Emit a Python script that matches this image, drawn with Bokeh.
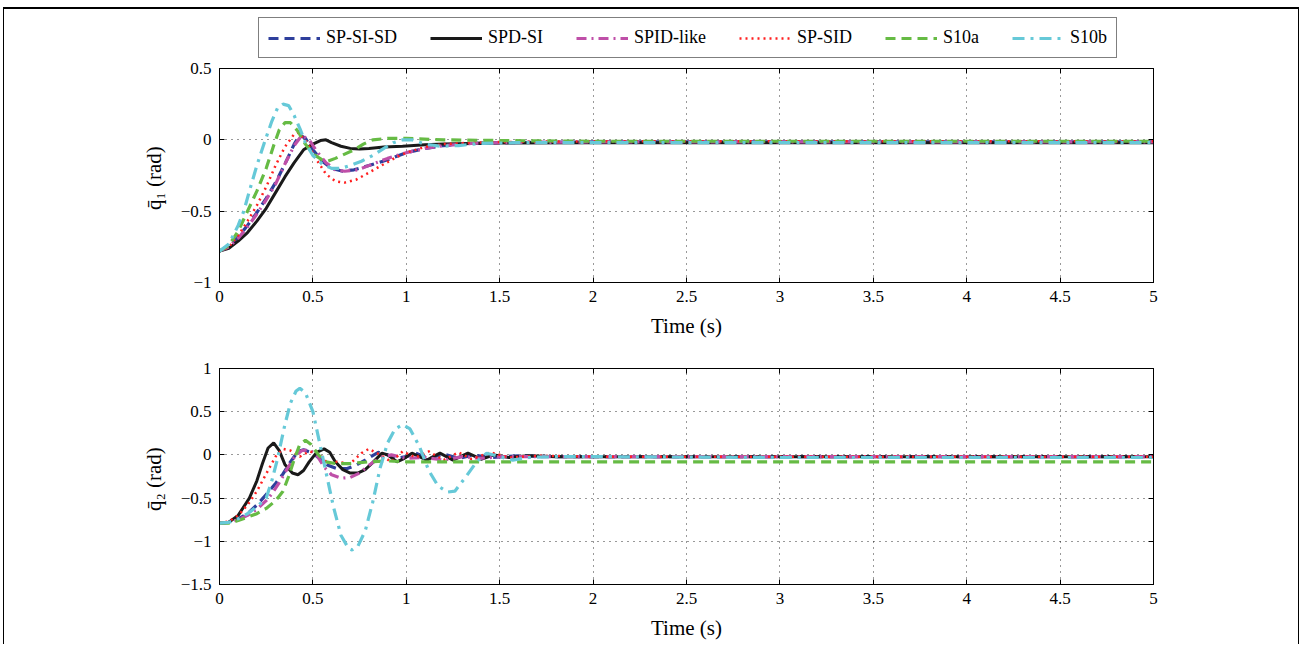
from bokeh.plotting import figure
from bokeh.models import (Legend, LegendItem, FixedTicker, CustomJSTickFormatter, Range1d, LinearAxis)
from bokeh.layouts import column
from bokeh.embed import file_html
from bokeh.resources import INLINE

# ---------------- data ----------------
series_names = ["SP-SI-SD", "SPD-SI", "SPID-like", "SP-SID", "S10a", "S10b"]

x_ticks = [0, 0.5, 1, 1.5, 2, 2.5, 3, 3.5, 4, 4.5, 5]
y1_ticks = [-1, -0.5, 0, 0.5]
y2_ticks = [-1.5, -1, -0.5, 0, 0.5, 1]

# q1 (top)
t1_sisd = [0, 0.05, 0.1, 0.15, 0.2, 0.25, 0.3, 0.35, 0.4, 0.43, 0.46, 0.5, 0.55, 0.6, 0.66, 0.72, 0.8, 0.9, 1.0, 1.1, 1.2, 1.35, 1.5, 2, 3, 4, 5]
q1_sisd = [-0.78, -0.75, -0.68, -0.6, -0.51, -0.41, -0.3, -0.17, -0.03, 0.035, 0.01, -0.07, -0.15, -0.2, -0.22, -0.21, -0.18, -0.14, -0.09, -0.06, -0.04, -0.025, -0.02, -0.015, -0.015, -0.015, -0.015]

t1_spdsi = [0, 0.05, 0.1, 0.15, 0.2, 0.25, 0.3, 0.35, 0.4, 0.45, 0.5, 0.54, 0.57, 0.6, 0.65, 0.7, 0.75, 0.8, 0.88, 0.98, 1.1, 1.2, 1.35, 1.5, 2, 3, 4, 5]
q1_spdsi = [-0.78, -0.76, -0.71, -0.65, -0.57, -0.48, -0.37, -0.26, -0.16, -0.07, -0.03, -0.005, 0.0, -0.02, -0.045, -0.06, -0.065, -0.06, -0.05, -0.045, -0.035, -0.03, -0.025, -0.022, -0.02, -0.02, -0.02, -0.02]

t1_spid = [0, 0.05, 0.1, 0.15, 0.2, 0.25, 0.3, 0.35, 0.4, 0.44, 0.48, 0.52, 0.57, 0.62, 0.67, 0.74, 0.82, 0.9, 1.0, 1.1, 1.2, 1.35, 1.5, 2, 3, 4, 5]
q1_spid = [-0.78, -0.75, -0.69, -0.61, -0.52, -0.42, -0.31, -0.17, -0.04, 0.03, 0.0, -0.08, -0.16, -0.21, -0.22, -0.21, -0.17, -0.13, -0.09, -0.06, -0.04, -0.025, -0.02, -0.015, -0.015, -0.015, -0.015]

t1_spsid = [0, 0.05, 0.1, 0.15, 0.2, 0.25, 0.3, 0.35, 0.4, 0.42, 0.46, 0.52, 0.57, 0.62, 0.67, 0.73, 0.8, 0.88, 0.95, 1.0, 1.1, 1.2, 1.35, 1.5, 2, 3, 4, 5]
q1_spsid = [-0.78, -0.75, -0.67, -0.57, -0.46, -0.33, -0.18, -0.05, 0.04, 0.05, 0.0, -0.14, -0.24, -0.29, -0.3, -0.28, -0.23, -0.17, -0.12, -0.09, -0.05, -0.03, -0.02, -0.015, -0.01, -0.01, -0.01, -0.01]

t1_s10a = [0, 0.05, 0.1, 0.15, 0.2, 0.25, 0.29, 0.32, 0.35, 0.38, 0.42, 0.46, 0.5, 0.55, 0.58, 0.62, 0.67, 0.72, 0.77, 0.82, 0.9, 1.0, 1.2, 1.5, 2, 3, 4, 5]
q1_s10a = [-0.78, -0.74, -0.64, -0.5, -0.36, -0.2, -0.04, 0.07, 0.12, 0.12, 0.06, -0.03, -0.1, -0.14, -0.15, -0.13, -0.1, -0.07, -0.03, 0.0, 0.01, 0.01, 0.0, -0.005, -0.01, -0.01, -0.01, -0.01]

t1_s10b = [0, 0.05, 0.1, 0.13, 0.16, 0.2, 0.24, 0.28, 0.31, 0.34, 0.37, 0.4, 0.43, 0.46, 0.5, 0.55, 0.6, 0.65, 0.7, 0.76, 0.82, 0.88, 0.93, 0.98, 1.03, 1.1, 1.18, 1.28, 1.4, 1.6, 2, 3, 4, 5]
q1_s10b = [-0.78, -0.73, -0.6, -0.5, -0.36, -0.18, -0.02, 0.13, 0.22, 0.25, 0.24, 0.17, 0.08, -0.02, -0.11, -0.17, -0.2, -0.2, -0.18, -0.15, -0.11, -0.06, -0.02, 0.0, 0.0, -0.03, -0.045, -0.04, -0.025, -0.02, -0.02, -0.02, -0.02, -0.02]

# q2 (bottom)
t2_sisd = [0, 0.05, 0.1, 0.15, 0.2, 0.25, 0.3, 0.34, 0.38, 0.42, 0.45, 0.5, 0.54, 0.58, 0.63, 0.68, 0.73, 0.78, 0.85, 0.9, 0.95, 1.0, 1.05, 1.12, 1.2, 1.28, 1.36, 1.45, 1.6, 1.8, 2, 3, 4, 5]
q2_sisd = [-0.79, -0.78, -0.74, -0.68, -0.58, -0.46, -0.33, -0.22, -0.08, 0.04, 0.06, 0.02, -0.05, -0.12, -0.16, -0.16, -0.12, -0.06, 0.03, 0.0, -0.04, -0.02, 0.02, -0.04, 0.01, -0.04, 0.0, -0.03, -0.01, -0.02, -0.02, -0.02, -0.02, -0.02]

t2_spdsi = [0, 0.05, 0.1, 0.16, 0.2, 0.23, 0.26, 0.29, 0.32, 0.35, 0.39, 0.42, 0.45, 0.48, 0.52, 0.56, 0.59, 0.62, 0.66, 0.7, 0.74, 0.78, 0.82, 0.87, 0.9, 0.95, 0.99, 1.03, 1.11, 1.18, 1.25, 1.33, 1.4, 1.47, 1.55, 1.65, 1.8, 2, 3, 4, 5]
q2_spdsi = [-0.79, -0.78, -0.7, -0.5, -0.3, -0.1, 0.08, 0.14, 0.05, -0.11, -0.21, -0.23, -0.18, -0.08, 0.03, 0.07, 0.03, -0.08, -0.17, -0.21, -0.21, -0.17, -0.09, 0.02, 0.0, -0.08, -0.04, 0.02, -0.06, 0.02, -0.06, 0.02, -0.05, 0.0, -0.03, -0.01, -0.02, -0.02, -0.02, -0.02, -0.02]

t2_spid = [0, 0.05, 0.1, 0.15, 0.2, 0.25, 0.28, 0.32, 0.36, 0.4, 0.44, 0.48, 0.52, 0.56, 0.6, 0.65, 0.7, 0.75, 0.8, 0.86, 0.92, 1.0, 1.1, 1.2, 1.3, 1.4, 1.5, 1.7, 2, 3, 4, 5]
q2_spid = [-0.79, -0.78, -0.75, -0.7, -0.63, -0.53, -0.45, -0.32, -0.17, -0.03, 0.05, 0.06, 0.0, -0.14, -0.23, -0.27, -0.26, -0.21, -0.12, -0.03, 0.0, -0.04, -0.03, -0.06, -0.02, -0.04, -0.02, -0.02, -0.02, -0.02, -0.02, -0.02]

t2_spsid = [0, 0.05, 0.1, 0.15, 0.2, 0.25, 0.3, 0.34, 0.38, 0.43, 0.48, 0.53, 0.58, 0.63, 0.7, 0.76, 0.8, 0.86, 0.92, 0.98, 1.05, 1.12, 1.2, 1.28, 1.35, 1.45, 1.55, 1.7, 2, 3, 4, 5]
q2_spsid = [-0.79, -0.77, -0.7, -0.58, -0.42, -0.22, -0.02, 0.07, 0.05, -0.02, 0.04, 0.02, -0.1, -0.08, -0.1, 0.02, 0.07, 0.0, -0.08, 0.04, -0.03, 0.04, -0.06, 0.03, -0.05, 0.03, -0.03, -0.01, -0.02, -0.02, -0.02, -0.02]

t2_s10a = [0, 0.05, 0.1, 0.15, 0.2, 0.25, 0.3, 0.34, 0.37, 0.4, 0.43, 0.46, 0.49, 0.53, 0.57, 0.62, 0.7, 0.8, 0.9, 1.0, 1.5, 2, 3, 4, 5]
q2_s10a = [-0.79, -0.79, -0.76, -0.72, -0.68, -0.62, -0.53, -0.42, -0.25, -0.05, 0.12, 0.17, 0.12, 0.0, -0.08, -0.1, -0.1, -0.08, -0.07, -0.08, -0.08, -0.08, -0.08, -0.08, -0.08]

t2_s10b = [0, 0.05, 0.1, 0.15, 0.2, 0.25, 0.28, 0.31, 0.35, 0.38, 0.41, 0.43, 0.46, 0.5, 0.53, 0.57, 0.61, 0.65, 0.69, 0.71, 0.74, 0.78, 0.82, 0.86, 0.9, 0.94, 0.98, 1.02, 1.07, 1.12, 1.17, 1.22, 1.26, 1.32, 1.38, 1.43, 1.5, 1.57, 1.65, 1.8, 2, 3, 4, 5]
q2_s10b = [-0.79, -0.78, -0.74, -0.68, -0.6, -0.5, -0.3, -0.05, 0.35, 0.6, 0.74, 0.77, 0.72, 0.5, 0.2, -0.2, -0.6, -0.93, -1.08, -1.1, -1.06, -0.88, -0.55, -0.15, 0.14, 0.3, 0.35, 0.3, 0.1, -0.18, -0.36, -0.43, -0.42, -0.25, -0.07, 0.02, -0.02, -0.06, -0.03, -0.02, -0.02, -0.03, -0.03, -0.03]

# ---------------- styles ----------------
colors = ["#2e3f9c", "#1a1a1a", "#bf4fa8", "#ff2020", "#66bb44", "#66c9d8"]
dashes = ["10 6", "solid", "10 5 2 5", "2 4", "10 6", "12 6 3 6"]
widths = [3.2, 3, 3.2, 2.5, 3.2, 3.2]
FONT = "Liberation Serif"

fmt = CustomJSTickFormatter(code="""
var s = Math.abs(tick).toString();
return (tick < 0 ? '\\u2212' : '') + s;
""")


def tick_only_axis(ticks):
    ax = LinearAxis(ticker=FixedTicker(ticks=ticks),
                    formatter=CustomJSTickFormatter(code="return '';"))
    ax.major_tick_in = 5
    ax.major_tick_out = 0
    ax.major_tick_line_color = "black"
    ax.minor_tick_line_color = None
    ax.axis_line_color = "black"
    ax.major_label_standoff = 0
    return ax


def make_fig(yr, yticks, ylabel, top, bottom, h):
    p = figure(width=1294, height=h, x_range=Range1d(0, 5), y_range=Range1d(*yr),
               output_backend="svg", toolbar_location=None,
               min_border_left=215, min_border_right=145, min_border_top=top, min_border_bottom=bottom)
    p.outline_line_color = "black"
    p.outline_line_width = 1
    p.background_fill_color = "white"
    p.border_fill_color = "white"
    for ax in (p.xaxis[0], p.yaxis[0]):
        ax.major_label_text_font = FONT
        ax.major_label_text_font_size = "17px"
        ax.major_label_text_color = "black"
        ax.axis_label_text_font = FONT
        ax.axis_label_text_font_size = "21px"
        ax.axis_label_text_font_style = "normal"
        ax.axis_label_text_color = "black"
        ax.axis_line_color = "black"
        ax.major_tick_line_color = "black"
        ax.major_tick_in = 5
        ax.major_tick_out = 0
        ax.minor_tick_line_color = None
        ax.major_label_standoff = 8
        ax.formatter = fmt
    p.xaxis[0].ticker = FixedTicker(ticks=x_ticks)
    p.yaxis[0].ticker = FixedTicker(ticks=yticks)
    p.xaxis[0].axis_label = "Time (s)"
    p.xaxis[0].axis_label_standoff = 9
    p.yaxis[0].axis_label = ylabel
    p.yaxis[0].axis_label_standoff = 12
    p.add_layout(tick_only_axis(x_ticks), "above")
    p.add_layout(tick_only_axis(yticks), "right")
    for g in (p.xgrid[0], p.ygrid[0]):
        g.grid_line_color = "black"
        g.grid_line_dash = "1 5"
        g.grid_line_width = 1
        g.grid_line_alpha = 0.8
    return p


# legend strip above the first panel (its series lie outside its y range, so only the key shows)
p0 = figure(width=1294, height=50, x_range=Range1d(0, 5), y_range=Range1d(1, 2),
            output_backend="svg", toolbar_location=None, x_axis_type=None, y_axis_type=None,
            min_border_left=215, min_border_right=145, min_border_top=0, min_border_bottom=0)
p0.outline_line_color = None
p0.xgrid.visible = False
p0.ygrid.visible = False
p0.background_fill_color = "white"
p0.border_fill_color = "white"

p1 = make_fig((-1, 0.5), y1_ticks, "q\u0304\u2081  (rad)", 9, 56, 281)
p2 = make_fig((-1.5, 1), y2_ticks, "q\u0304\u2082  (rad)", 28, 60, 304)

top_data = [(t1_sisd, q1_sisd), (t1_spdsi, q1_spdsi), (t1_spid, q1_spid),
            (t1_spsid, q1_spsid), (t1_s10a, q1_s10a), (t1_s10b, q1_s10b)]
bot_data = [(t2_sisd, q2_sisd), (t2_spdsi, q2_spdsi), (t2_spid, q2_spid),
            (t2_spsid, q2_spsid), (t2_s10a, q2_s10a), (t2_s10b, q2_s10b)]

items = []
for i, name in enumerate(series_names):
    t, v = top_data[i]
    p1.line(t, v, line_color=colors[i], line_dash=dashes[i], line_width=widths[i])
    key = p0.line(t, v, line_color=colors[i], line_dash=dashes[i], line_width=widths[i])
    items.append(LegendItem(label=name, renderers=[key]))
    t, v = bot_data[i]
    p2.line(t, v, line_color=colors[i], line_dash=dashes[i], line_width=widths[i])

legend = Legend(items=items, orientation="horizontal", location=(39, 1),
                margin=0, padding=9, spacing=33, glyph_width=52, glyph_height=18,
                label_height=18, label_standoff=6, label_text_font=FONT, label_text_font_size="18px",
                label_text_color="black", border_line_color="black", border_line_width=1.5,
                background_fill_color="white", background_fill_alpha=1.0)
p0.add_layout(legend)

layout = column(p0, p1, p2, spacing=0,
                styles={"border-top": "2px solid black", "border-left": "1px solid black",
                        "border-right": "1px solid black", "margin-left": "3px", "margin-top": "7px"})

open("out.html", "w").write(file_html(layout, INLINE))
